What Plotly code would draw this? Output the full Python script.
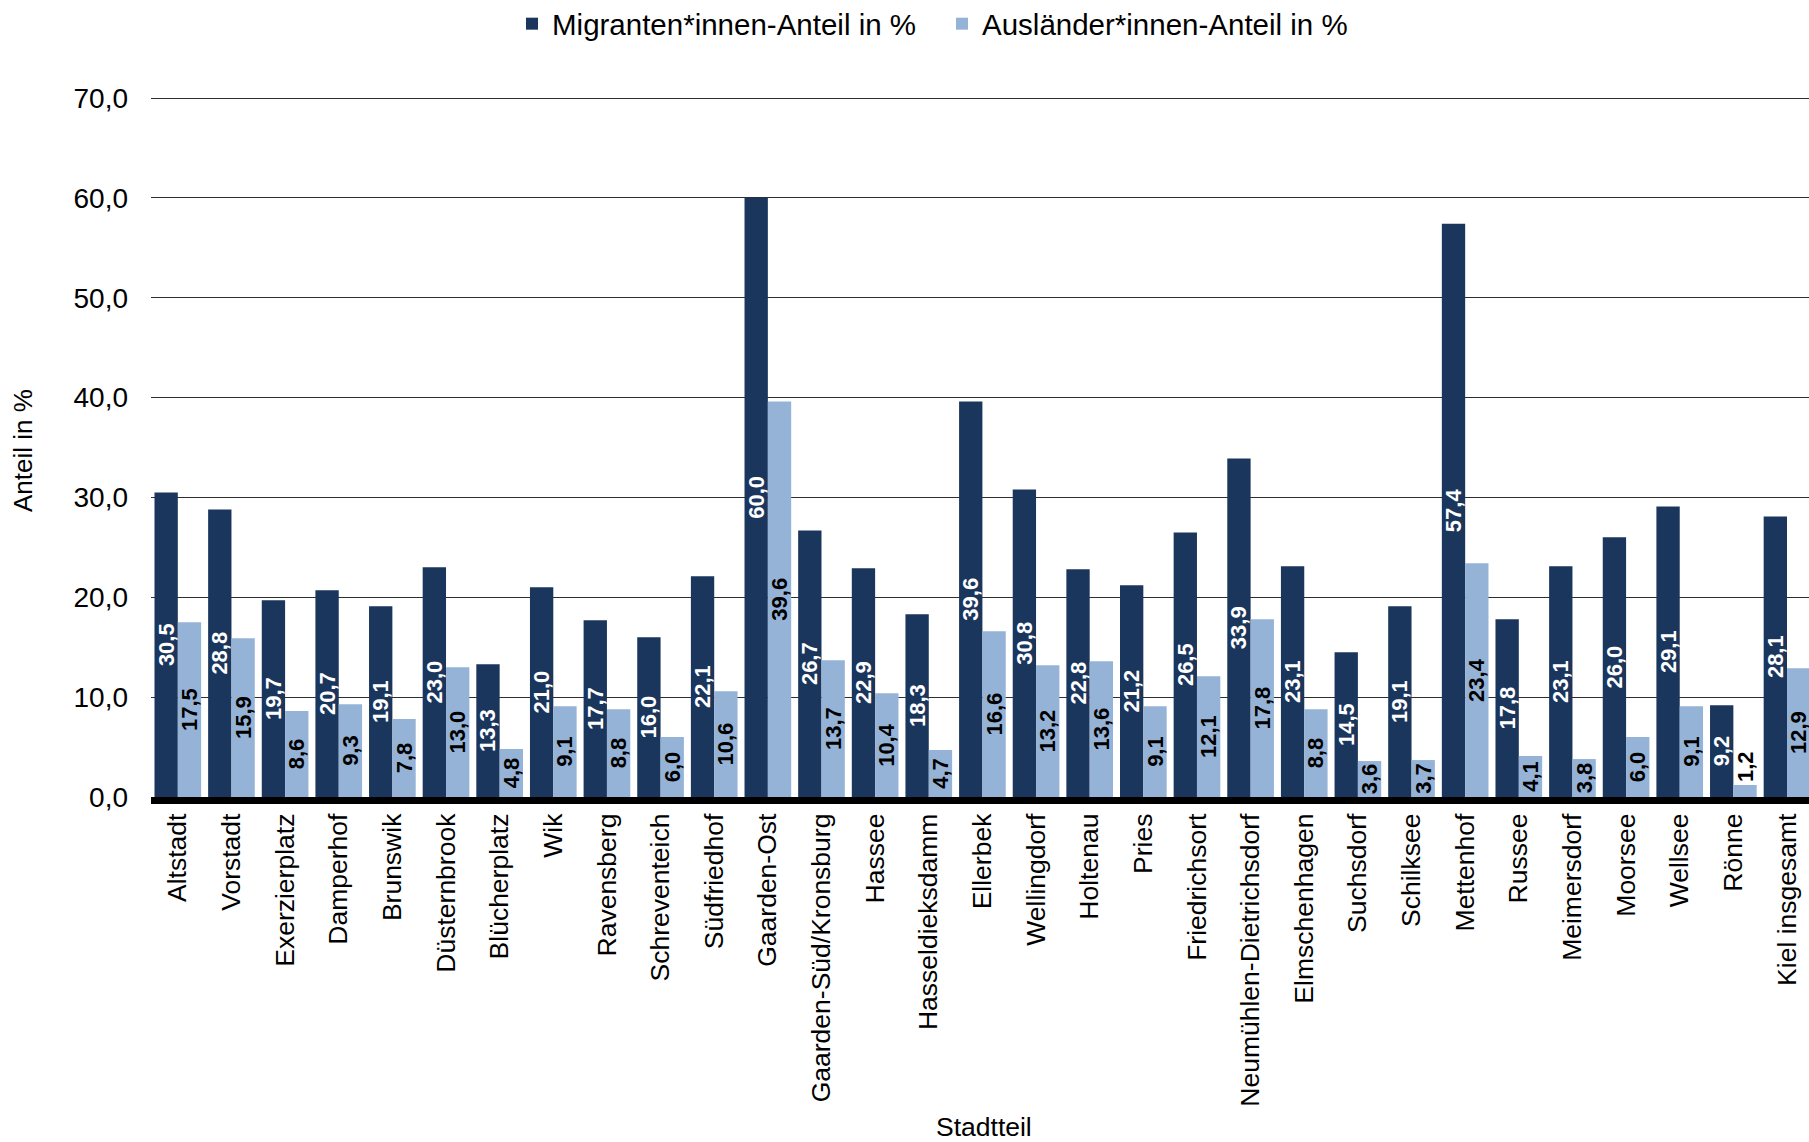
import plotly.graph_objects as go

# ---------------- data ----------------
stadtteile = [
    "Altstadt", "Vorstadt", "Exerzierplatz", "Damperhof", "Brunswik",
    "Düsternbrook", "Blücherplatz", "Wik", "Ravensberg", "Schreventeich",
    "Südfriedhof", "Gaarden-Ost", "Gaarden-Süd/Kronsburg", "Hassee",
    "Hasseldieksdamm", "Ellerbek", "Wellingdorf", "Holtenau", "Pries",
    "Friedrichsort", "Neumühlen-Dietrichsdorf", "Elmschenhagen", "Suchsdorf",
    "Schilksee", "Mettenhof", "Russee", "Meimersdorf", "Moorsee", "Wellsee",
    "Rönne", "Kiel insgesamt",
]
migranten_anteil = [
    30.5, 28.8, 19.7, 20.7, 19.1, 23.0, 13.3, 21.0, 17.7, 16.0,
    22.1, 60.0, 26.7, 22.9, 18.3, 39.6, 30.8, 22.8, 21.2, 26.5,
    33.9, 23.1, 14.5, 19.1, 57.4, 17.8, 23.1, 26.0, 29.1, 9.2, 28.1,
]
auslaender_anteil = [
    17.5, 15.9, 8.6, 9.3, 7.8, 13.0, 4.8, 9.1, 8.8, 6.0,
    10.6, 39.6, 13.7, 10.4, 4.7, 16.6, 13.2, 13.6, 9.1, 12.1,
    17.8, 8.8, 3.6, 3.7, 23.4, 4.1, 3.8, 6.0, 9.1, 1.2, 12.9,
]
y_tick_values = [0, 10, 20, 30, 40, 50, 60, 70]

series_names = ["Migranten*innen-Anteil in %", "Ausländer*innen-Anteil in %"]
x_title = "Stadtteil"
y_title = "Anteil in %"

# ---------------- style ----------------
FONT = "Liberation Sans, Arial, sans-serif"
DARK = "#1B365D"
LIGHT = "#95B3D7"
W, H = 1809, 1142
ML, MR, MT, MB = 151, 0, 95, 345
PW, PH = W - ML - MR, H - MT - MB
Y_MAX = 70.3

fig = go.Figure()
fig.add_trace(go.Bar(
    name=series_names[0], x=stadtteile, y=migranten_anteil,
    marker=dict(color=DARK, line=dict(width=0)),
    texttemplate="%{y:.1f}", textposition="inside", insidetextanchor="middle",
    textangle=-90,
    insidetextfont=dict(family=FONT, size=22, color="white", weight="bold"),
    outsidetextfont=dict(family=FONT, size=22, color="black", weight="bold"),
))
fig.add_trace(go.Bar(
    name=series_names[1], x=stadtteile, y=auslaender_anteil,
    marker=dict(color=LIGHT, line=dict(width=0)),
    texttemplate="%{y:.1f}",
    textposition=["outside" if v < 2 else "inside" for v in auslaender_anteil],
    insidetextanchor="middle", textangle=-90,
    insidetextfont=dict(family=FONT, size=22, color="black", weight="bold"),
    outsidetextfont=dict(family=FONT, size=22, color="black", weight="bold"),
))

fig.update_layout(
    width=W, height=H,
    margin=dict(l=ML, r=MR, t=MT, b=MB, autoexpand=False),
    paper_bgcolor="white", plot_bgcolor="white",
    barmode="group", bargap=0.13, bargroupgap=0,
    separators=",.",
    uniformtext=dict(minsize=22, mode="show"),
    font=dict(family=FONT, color="black"),
    showlegend=True,
    legend=dict(
        orientation="h", xanchor="left", yanchor="top",
        x=(512 - ML) / PW, y=1 + (MT + 2) / PH,
        entrywidth=385, entrywidthmode="pixels",
        font=dict(family=FONT, size=29.5, color="black"),
        bgcolor="rgba(0,0,0,0)", borderwidth=0,
    ),
    xaxis=dict(
        range=[-0.5, 30.41], tickangle=-90,
        tickfont=dict(family=FONT, size=26.5, color="black"),
        showgrid=False, ticks="", showline=True, linewidth=7,
        linecolor="black", layer="above traces", ticklabelstandoff=-1,
        automargin=False,
    ),
    yaxis=dict(
        range=[0, Y_MAX], tickvals=y_tick_values, tickformat=".1f",
        tickfont=dict(family=FONT, size=28, color="black"),
        showgrid=True, gridcolor="#2e2e2e", gridwidth=1,
        zeroline=False, showline=False, ticks="",
        ticklabelstandoff=22, automargin=False,
    ),
    annotations=[
        dict(text=x_title, xref="paper", yref="paper",
             x=(983.5 - ML) / PW, y=-(1127 - (H - MB)) / PH,
             xanchor="center", yanchor="middle", showarrow=False,
             font=dict(family=FONT, size=26.5, color="black")),
        dict(text=y_title, xref="paper", yref="paper",
             x=-(ML - 23) / PW, y=((H - MB) - 451) / PH,
             xanchor="center", yanchor="middle", showarrow=False, textangle=-90,
             font=dict(family=FONT, size=26, color="black")),
    ],
)

fig.write_html("out.html", config={"displayModeBar": False},
               post_script="document.body.style.margin='0';")
